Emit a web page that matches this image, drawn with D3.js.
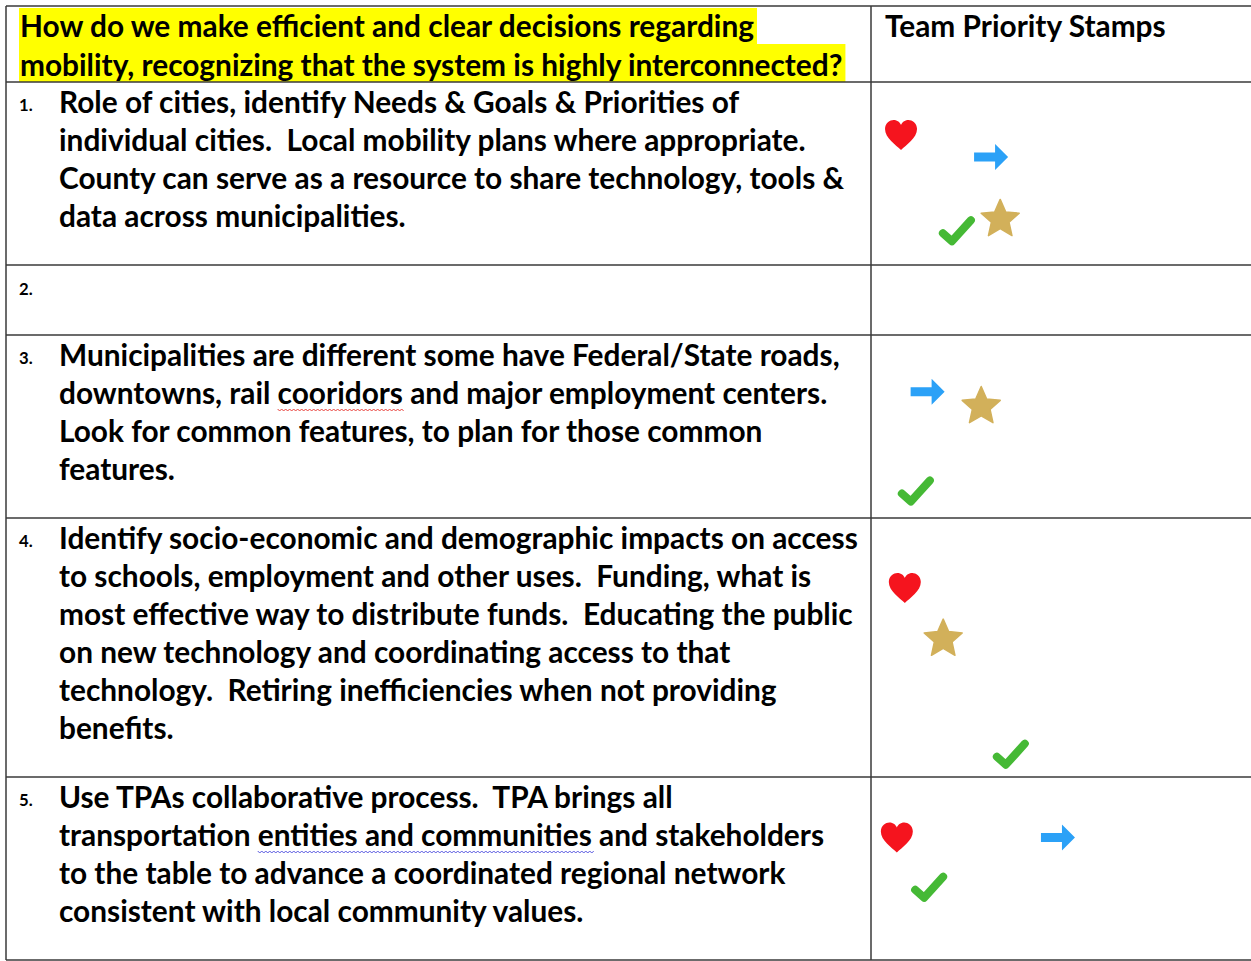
<!DOCTYPE html>
<html><head><meta charset="utf-8">
<script src="https://cdn.jsdelivr.net/npm/d3@7"></script>
<style>html,body{margin:0;padding:0;background:#fff;}svg{display:block;}</style>
</head><body>
<script>
// ---------- DATA ----------
const headerLines = [
  "How do we make efficient and clear decisions regarding",
  "mobility, recognizing that the system is highly interconnected?"
];
const stampHeader = "Team Priority Stamps";
const itemNumbers = ["1.", "2.", "3.", "4.", "5."];
const item1 = [
  "Role of cities, identify Needs & Goals & Priorities of",
  "individual cities.  Local mobility plans where appropriate.",
  "County can serve as a resource to share technology, tools &",
  "data across municipalities."
];
const item2 = [];
const item3 = [
  "Municipalities are different some have Federal/State roads,",
  "downtowns, rail cooridors and major employment centers.",
  "Look for common features, to plan for those common",
  "features."
];
const item4 = [
  "Identify socio-economic and demographic impacts on access",
  "to schools, employment and other uses.  Funding, what is",
  "most effective way to distribute funds.  Educating the public",
  "on new technology and coordinating access to that",
  "technology.  Retiring inefficiencies when not providing",
  "benefits."
];
const item5 = [
  "Use TPAs collaborative process.  TPA brings all",
  "transportation entities and communities and stakeholders",
  "to the table to advance a coordinated regional network",
  "consistent with local community values."
];
const items = [item1, item2, item3, item4, item5];
// spell-check marks: [item index, line index, flagged phrase, kind]
const flagged = [
  [2, 1, "cooridors", "spelling"],
  [4, 1, "entities and communities", "grammar"]
];
// stamps: item index, type, horizontal position (0-100 across the stamp column), vertical position (0-1 within row)
const stampItem = [0, 0, 0, 0, 2, 2, 2, 3, 3, 3, 4, 4, 4];
const stampType = ["heart", "arrow", "check", "star", "arrow", "star", "check", "heart", "star", "check", "heart", "arrow", "check"];
const stampPosX = [7.9, 31.6, 22.6, 34.0, 14.9, 29.0, 11.8, 8.9, 19.0, 36.8, 6.8, 49.2, 15.3];
const stampPosY = [0.29, 0.41, 0.81, 0.74, 0.31, 0.38, 0.85, 0.27, 0.46, 0.91, 0.33, 0.33, 0.60];

// ---------- LAYOUT ----------
const W = 1251, H = 961;
const leftX = 6, topY = 6, colX = 871, rightX = 1260;
const lineH = 38, rowPad = 31, headerH = 76, emptyRowH = 70;
const textX = 59, numX = 19;
const font = "Lato, 'Open Sans', sans-serif";
const keepSpaces = s => s.replace(/  /g, " \u00a0");

const svg = d3.select("body").append("svg").attr("width", W).attr("height", H);

// compute row bounds
const rows = [];
let yAcc = topY + headerH;
items.forEach((lines, i) => {
  const h = lines.length ? lines.length * lineH + rowPad : emptyRowH;
  rows.push({ i, y0: yAcc, y1: yAcc + h, lines });
  yAcc += h;
});
const bottomY = yAcc;

// measure font size to fit reference width
const probe = svg.append("text").attr("font-family", font).attr("font-weight", 700)
  .attr("font-size", 30).text(item3[0]);
const fs = 30 * 781 / probe.node().getComputedTextLength();
probe.remove();

const gHi = svg.append("g");
const gText = svg.append("g").attr("font-family", font).attr("font-weight", 700).attr("fill", "#000");

// header text + highlight
headerLines.forEach((t, k) => {
  const by = topY + 31 + k * 39;
  const tx = gText.append("text").attr("x", 20).attr("y", by).attr("font-size", fs).text(keepSpaces(t));
  const w = tx.node().getComputedTextLength();
  gHi.append("rect").attr("x", 19).attr("y", k === 0 ? topY + 2 : topY + 38)
    .attr("width", w + 4).attr("height", k === 0 ? 36 : 38).attr("fill", "#ffff00");
});
gText.append("text").attr("x", 885).attr("y", topY + 31).attr("font-size", fs).text(stampHeader);

// items
rows.forEach(r => {
  const by0 = r.y0 + 31;
  gText.append("text").attr("x", numX).attr("y", r.lines.length ? by0 - 2 : r.y0 + 30)
    .attr("font-size", fs * 0.56).text(itemNumbers[r.i]);
  r.lines.forEach((t0, k) => {
    const t = keepSpaces(t0);
    const tx = gText.append("text").attr("x", textX).attr("y", by0 + k * lineH)
      .attr("font-size", fs).text(t);
    flagged.filter(f => f[0] === r.i && f[1] === k).forEach(f => {
      const idx = t.indexOf(f[2]);
      const node = tx.node();
      const x0 = textX + (idx > 0 ? node.getSubStringLength(0, idx) : 0);
      const x1 = x0 + node.getSubStringLength(idx, f[2].length);
      const yy = by0 + k * lineH + 5;
      let d = `M${x0},${yy}`;
      for (let x = x0, s = 0; x < x1; x += 2, s++) d += `L${x + 2},${yy + (s % 2 ? 0 : 2)}`;
      svg.append("path").attr("d", d).attr("fill", "none")
        .attr("stroke", f[3] === "spelling" ? "#e8413c" : "#5a5ae0").attr("stroke-width", 1);
    });
  });
});

// grid lines
const gl = svg.append("g").attr("stroke", "#3a3a3a").attr("stroke-width", 1.5);
[topY, topY + headerH, ...rows.map(r => r.y1)].forEach(yy =>
  gl.append("line").attr("x1", leftX).attr("x2", rightX).attr("y1", yy).attr("y2", yy));
gl.append("line").attr("x1", leftX).attr("x2", leftX).attr("y1", topY).attr("y2", bottomY);
gl.append("line").attr("x1", colX).attr("x2", colX).attr("y1", topY).attr("y2", bottomY);

// stamps
const sx = d3.scaleLinear().domain([0, 100]).range([colX, 1251]);
const heart = "M0,15 C-5,10 -16,3 -16,-6 C-16,-12 -11,-15 -7.5,-15 C-3.5,-15 -1,-12.5 0,-10 C1,-12.5 3.5,-15 7.5,-15 C11,-15 16,-12 16,-6 C16,3 5,10 0,15Z";
const arrow = "M-17,-4.5 H4 V-13 L17,0 L4,13 V4.5 H-17 Z";
const starPts = d3.range(10).map(j => {
  const a = -Math.PI / 2 + j * Math.PI / 5, rr = j % 2 ? 9.3 : 20;
  return [rr * Math.cos(a), rr * Math.sin(a)];
});
const star = d3.line().curve(d3.curveLinearClosed)(starPts);
const gs = svg.append("g");
stampType.forEach((t, i) => {
  const r = rows[stampItem[i]];
  const cx = sx(stampPosX[i]);
  const cy = r.y0 + stampPosY[i] * (r.y1 - r.y0);
  const g = gs.append("g").attr("transform", `translate(${cx},${cy})`);
  if (t === "heart") g.append("path").attr("d", heart).attr("fill", "#f5141e");
  else if (t === "arrow") g.append("path").attr("d", arrow).attr("fill", "#2ba1f7");
  else if (t === "star") g.append("path").attr("d", star).attr("transform", "translate(0,2)")
    .attr("fill", "#d2b05a").attr("stroke", "#d2b05a").attr("stroke-width", 1.5).attr("stroke-linejoin", "round");
  else g.append("path").attr("d", "M-14,3 L-5,11 L14,-10").attr("fill", "none")
    .attr("stroke", "#45b935").attr("stroke-width", 8).attr("stroke-linecap", "round").attr("stroke-linejoin", "round");
});
</script>
</body></html>
